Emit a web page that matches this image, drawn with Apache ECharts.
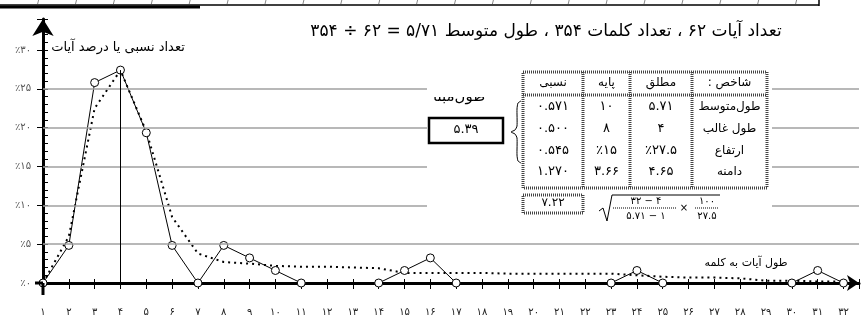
<!DOCTYPE html>
<html>
<head>
<meta charset="utf-8">
<script src="https://cdn.jsdelivr.net/npm/echarts@6/dist/echarts.min.js"></script>
<style>
  html, body { margin: 0; padding: 0; background: #fff; }
  #container { width: 864px; height: 327px; }
</style>
</head>
<body>
<div id="container"></div>
<script>
"use strict";

// طول آیه (تعداد کلمه)
const lengths = [1, 2, 3, 4, 5, 6, 7, 8, 9, 10, 11, 12, 13, 14, 15, 16,
  17, 18, 19, 20, 21, 22, 23, 24, 25, 26, 27, 28, 29, 30, 31, 32];
// درصد آیات
const percents = [0, 4.84, 25.81, 27.42, 19.35, 4.84, 0, 4.84, 3.23, 1.61, 0, 0, 0, 0, 1.61, 3.23,
  0, 0, 0, 0, 0, 0, 0, 1.61, 0, 0, 0, 0, 0, 0, 1.61, 0];
// منحنی نقطه‌چین
const trend = [0, 6.0, 22.5, 27.4, 19.5, 8.5, 3.8, 2.7, 2.5, 2.2, 2.1, 2.1, 2.0, 1.9, 1.3, 1.3,
  1.3, 1.3, 1.2, 1.2, 1.2, 1.2, 1.2, 1.0, 0.8, 0.7, 0.7, 0.6, 0.3, 0.3, 0.2, 0.2];
const gridValues = [5, 10, 15, 20, 25];

const titleText = 'تعداد آیات ۶۲ ، تعداد کلمات ۳۵۴ ، طول متوسط ۵/۷۱ = ۶۲ ÷ ۳۵۴';
const yName = 'تعداد نسبی یا درصد آیات';
const xName = 'طول آیات به کلمه';

// جدول شاخص‌ها (از چپ به راست)
const tableHead = ['نسبی', 'پایه', 'مطلق', ': شاخص'];
const tableRows = [
  ['۰.۵۷۱', '۱۰', '۵.۷۱', 'طول‌متوسط'],
  ['۰.۵۰۰', '۸', '۴', 'طول غالب'],
  ['۰.۵۴۵', '٪۱۵', '٪۲۷.۵', 'ارتفاع'],
  ['۱.۲۷۰', '۳.۶۶', '۴.۶۵', 'دامنه'],
];
const tableTotal = '۷.۲۲';
const boxLabel = 'طول‌مبنا';
const boxValue = '۵.۳۹';

const FONT = "'DejaVu Sans', sans-serif";

function fa(v) {
  return String(v).replace(/\d/g, d => '۰۱۲۳۴۵۶۷۸۹'[d]);
}

let myChart = echarts.init(document.getElementById('container'));

let points = lengths.map((x, i) => {
  let show = percents[i] > 0 || percents[i - 1] > 0 || percents[i + 1] > 0;
  return { value: [x, percents[i]], symbol: show ? 'circle' : 'none' };
});
let trendPoints = lengths.map((x, i) => [x, trend[i]]);
let modeIdx = percents.indexOf(Math.max.apply(null, percents));

function txt(t, x, y, size, align) {
  return {
    type: 'text', x: x, y: y,
    style: { text: t, font: size + 'px ' + FONT, fill: '#000', textAlign: align || 'center', textVerticalAlign: 'middle' }
  };
}

// جدول
let colX = [523, 583, 630, 692, 767];
let rowY = [83, 107, 129, 151, 172];
let border = { stroke: '#444', lineWidth: 3, lineDash: [1, 1], fill: 'none' };
let graphics = [];
graphics.push({ type: 'rect', z: 10, shape: { x: 427, y: 60, width: 345, height: 165 }, style: { fill: '#fff' } });
graphics.push({ type: 'rect', shape: { x: 523, y: 72, width: 244, height: 116 }, style: border });
graphics.push({ type: 'line', shape: { x1: 523, y1: 95, x2: 767, y2: 95 }, style: border });
[583, 630, 692].forEach(x => {
  graphics.push({ type: 'line', shape: { x1: x, y1: 72, x2: x, y2: 188 }, style: border });
});
tableHead.forEach((t, c) => {
  graphics.push(txt(t, (colX[c] + colX[c + 1]) / 2, rowY[0], 12));
});
tableRows.forEach((row, r) => {
  row.forEach((t, c) => {
    graphics.push(txt(t, (colX[c] + colX[c + 1]) / 2, rowY[r + 1], c === 3 ? 12 : 13));
  });
});
graphics.push({ type: 'rect', shape: { x: 523, y: 195, width: 60, height: 18 }, style: border });
graphics.push(txt(tableTotal, 553, 203, 12));

// رادیکال
graphics.push({
  type: 'polyline', shape: { points: [[599, 211], [603, 208], [607, 221], [612, 195], [720, 195]] },
  style: { stroke: '#000', lineWidth: 1, fill: 'none' }
});
graphics.push({ type: 'line', shape: { x1: 613, y1: 208, x2: 677, y2: 208 }, style: { stroke: '#000', lineWidth: 1, lineDash: [1, 1] } });
graphics.push({ type: 'line', shape: { x1: 695, y1: 208, x2: 719, y2: 208 }, style: { stroke: '#000', lineWidth: 1, lineDash: [1, 1] } });
[['۳۲ − ۴', 646, 201], ['۵.۷۱ − ۱', 646, 216], ['×', 684, 208], ['۱۰۰', 707, 201], ['۲۷.۵', 707, 216]].forEach(f => {
  graphics.push(txt(f[0], f[1], f[2], 10));
});

// آکولاد و کادر
graphics.push({
  type: 'polyline',
  shape: { points: [[521, 101], [518, 103], [517, 109], [517, 126], [515, 130], [511, 132], [515, 134], [517, 138], [517, 155], [518, 161], [521, 163]], smooth: 0.2 },
  style: { stroke: '#000', lineWidth: 1, fill: 'none' }
});
graphics.push({ type: 'rect', shape: { x: 429, y: 118, width: 74, height: 25 }, style: { fill: '#fff', stroke: '#000', lineWidth: 2.5 } });
graphics.push(txt(boxValue, 466, 130, 13));
graphics.push(txt(boxLabel, 459, 97, 15));
// بالای عنوان کادر در اصل بریده شده است
graphics.push({ type: 'rect', z: 30, shape: { x: 428, y: 80, width: 64, height: 17 }, style: { fill: '#fff' } });

// عنوان محورها
graphics.push(txt(yName, 118, 48, 13));
graphics.push(txt(xName, 746, 263, 11));

// قاب نمودار قبلی (بالای صفحه)
graphics.push({ type: 'line', shape: { x1: 0, y1: 5, x2: 819, y2: 5 }, style: { stroke: '#000', lineWidth: 1.5 } });
graphics.push({ type: 'line', shape: { x1: 0, y1: 7, x2: 200, y2: 7 }, style: { stroke: '#000', lineWidth: 3 } });
graphics.push({ type: 'line', shape: { x1: 819, y1: 0, x2: 819, y2: 6 }, style: { stroke: '#000', lineWidth: 1.5 } });
for (let x = 37.6; x < 800; x += 37.9) {
  graphics.push({ type: 'line', shape: { x1: x + 1, y1: 0, x2: x, y2: 4 }, style: { stroke: '#888', lineWidth: 1 } });
}
// امتداد محورها
graphics.push({ type: 'line', shape: { x1: 43, y1: 283, x2: 43, y2: 295 }, style: { stroke: '#000', lineWidth: 3 } });
graphics.push({ type: 'line', shape: { x1: 35, y1: 283, x2: 43, y2: 283 }, style: { stroke: '#000', lineWidth: 3 } });

graphics.forEach(g => { if (g.z == null) g.z = 20; g.silent = true; });

let xBase = {
  type: 'value', min: 1, max: 32.6, interval: 1,
  splitLine: { show: false },
};
let yBase = {
  type: 'value', min: 0, max: 34, interval: 5,
  splitLine: { show: false },
};

let option = {
  animation: false,
  textStyle: { fontFamily: FONT },
  title: {
    text: titleText,
    left: 541, top: 18, textAlign: 'center',
    textStyle: { fontSize: 17, fontWeight: 'normal', color: '#000', fontFamily: FONT },
  },
  grid: { left: 43, right: 5, top: 19, bottom: 44 },
  xAxis: [
    Object.assign({}, xBase, {
      position: 'bottom',
      axisLine: { onZero: false, lineStyle: { color: '#000', width: 3 }, symbol: ['none', 'arrow'], symbolSize: [12, 12] },
      axisTick: { length: 6, lineStyle: { color: '#000', width: 1 } },
      axisLabel: {
        margin: 24, fontSize: 10, color: '#222', fontFamily: FONT,
        formatter: v => (v > 32 ? '' : fa(v)),
      },
    }),
    Object.assign({}, xBase, { // تیک‌های رو به بالا
      position: 'top', offset: -264,
      axisLine: { show: false, onZero: false },
      axisTick: { length: 4, lineStyle: { color: '#000', width: 1 } },
      axisLabel: { show: false },
    }),
  ],
  yAxis: [
    Object.assign({}, yBase, {
      position: 'left',
      axisLine: { onZero: false, lineStyle: { color: '#000', width: 3 }, symbol: ['none', 'arrow'], symbolSize: [16, 17] },
      axisTick: { length: 6, lineStyle: { color: '#000', width: 1 } },
      axisLabel: {
        margin: 12, fontSize: 10, color: '#555', fontFamily: FONT,
        formatter: v => (v > 30 ? '' : '٪' + fa(v)),
      },
    }),
    Object.assign({}, yBase, { // تیک‌های فرعی
      position: 'right', offset: -816,
      axisLine: { show: false, onZero: false },
      axisTick: { length: 5, lineStyle: { color: '#000', width: 1 } },
      minorTick: { show: true, splitNumber: 5, length: 5, lineStyle: { color: '#000', width: 1 } },
      axisLabel: { show: false },
    }),
  ],
  graphic: { elements: graphics },
  series: [
    {
      name: 'trend',
      type: 'line',
      data: trendPoints,
      symbol: 'none',
      lineStyle: { color: '#000', width: 2, type: [2, 4] },
      z: 3,
    },
    {
      name: 'percent',
      type: 'line',
      data: points,
      symbolSize: 8,
      itemStyle: { color: '#fff', borderColor: '#000', borderWidth: 1 },
      lineStyle: { color: '#000', width: 1 },
      z: 4,
      markLine: {
        silent: true,
        symbol: 'none',
        label: { show: false },
        data: gridValues.map(v => ({ yAxis: v, lineStyle: { color: '#a0a0a0', width: 1.5, type: 'solid' } }))
          .concat([[
            { coord: [lengths[modeIdx], 0], lineStyle: { color: '#000', width: 1, type: 'solid' } },
            { coord: [lengths[modeIdx], percents[modeIdx]] },
          ]]),
      },
    },
  ],
};

myChart.setOption(option);
</script>
</body>
</html>
